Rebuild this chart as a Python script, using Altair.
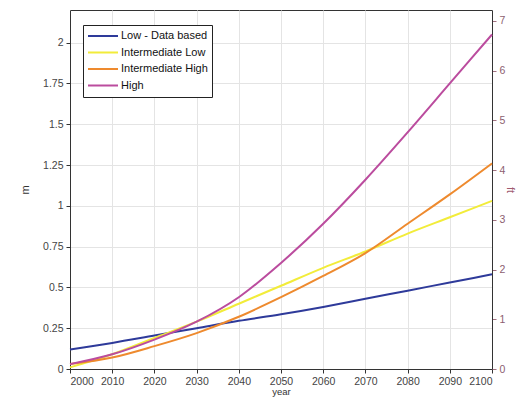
import altair as alt
import pandas as pd

years = [2000, 2010, 2020, 2030, 2040, 2050, 2060, 2070, 2080, 2090, 2100]
low = [0.12, 0.16, 0.205, 0.25, 0.295, 0.335, 0.38, 0.43, 0.48, 0.53, 0.58]
int_low = [0.01, 0.09, 0.19, 0.29, 0.40, 0.51, 0.62, 0.72, 0.83, 0.93, 1.03]
int_high = [0.03, 0.07, 0.14, 0.22, 0.32, 0.44, 0.57, 0.71, 0.89, 1.07, 1.26]
high = [0.03, 0.09, 0.18, 0.29, 0.44, 0.65, 0.89, 1.16, 1.45, 1.75, 2.05]

series_names = ["Low - Data based", "Intermediate Low", "Intermediate High", "High"]
colors = ["#2e3a9a", "#f2ec3a", "#ee8a2e", "#bb4c9e"]
m_ticks = [0, 0.25, 0.5, 0.75, 1, 1.25, 1.5, 1.75, 2]
ft_ticks = [0, 1, 2, 3, 4, 5, 6, 7]
year_ticks = years

rows = []
for name, vals in zip(series_names, [low, int_low, int_high, high]):
    for yr, v in zip(years, vals):
        rows.append({"year": yr, "series": name, "m": v})
df = pd.DataFrame(rows)

FONT = "Liberation Sans"
base = alt.Chart(df)

lines = base.mark_line(strokeWidth=2, interpolate="monotone").encode(
    x=alt.X("year:Q", scale=alt.Scale(domain=[2000, 2100], nice=False),
            axis=alt.Axis(values=year_ticks, format="d", title="year",
                          labelFontSize=10.5, labelColor="#444", titleFontSize=9.5,
                          titleFontWeight="normal", titleColor="#333", titlePadding=0,
                          tickSize=4, labelPadding=3, gridColor="#e4e4e4",
                          domainColor="#333", tickColor="#333", labelFont=FONT, titleFont=FONT)),
    y=alt.Y("m:Q", scale=alt.Scale(domain=[0, 2.2], nice=False),
            axis=alt.Axis(values=m_ticks, format=".2~f", title="m", orient="left",
                          labelFontSize=10.5, labelColor="#444", titleFontSize=11,
                          titleFontWeight="normal", titleColor="#333", titlePadding=12,
                          tickSize=4, labelPadding=3, gridColor="#e4e4e4",
                          domainColor="#333", tickColor="#333", labelFont=FONT, titleFont=FONT)),
    color=alt.Color("series:N", scale=alt.Scale(domain=series_names, range=colors),
                    sort=series_names,
                    legend=alt.Legend(orient="none", legendX=13, legendY=15, title=None,
                                      symbolType="stroke", symbolSize=900, symbolStrokeWidth=2,
                                      strokeColor="#222", fillColor="white", padding=4,
                                      labelFontSize=11, labelColor="#111", labelFont=FONT,
                                      clipHeight=14, rowPadding=2.5, labelOffset=2)),
)

ft_layer = base.transform_calculate(ft="datum.m / 0.3048").mark_line(opacity=0).encode(
    x=alt.X("year:Q"),
    y=alt.Y("ft:Q", scale=alt.Scale(domain=[0, 2.2 / 0.3048], nice=False),
            axis=alt.Axis(values=ft_ticks, format="d", title="ft", orient="right", grid=False,
                          labelFontSize=10.5, labelColor="#8c6070", titleFontSize=11,
                          titleFontWeight="normal", titleColor="#a05a70", titlePadding=0,
                          tickSize=4, labelPadding=3, domainColor="#333", tickColor="#a07080",
                          labelFont=FONT, titleFont=FONT)),
    detail="series:N",
)

chart = alt.layer(lines, ft_layer).resolve_scale(y="independent").properties(
    width=422, height=359,
    padding={"left": 62, "top": 2, "right": 26, "bottom": 33},
    autosize=alt.AutoSizeParams(type="none"),
).configure_view(stroke="#333")

chart.save("out.html", embed_options={"renderer": "svg", "actions": False})
